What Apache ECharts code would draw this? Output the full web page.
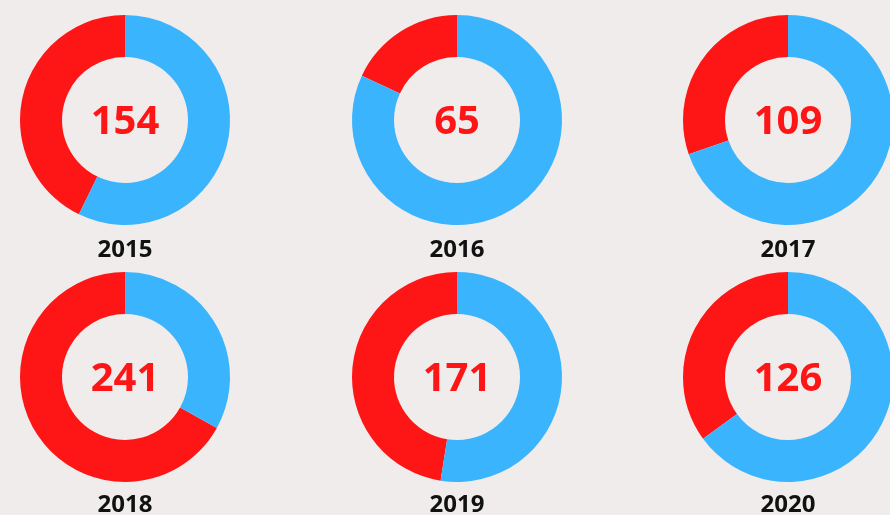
<!DOCTYPE html>
<html>
<head>
<meta charset="utf-8">
<script src="https://cdn.jsdelivr.net/npm/echarts@6/dist/echarts.min.js"></script>
<style>
  html, body { margin: 0; padding: 0; background: #f1ecec; }
  #chart { width: 890px; height: 515px; }
</style>
</head>
<body>
<div id="chart"></div>
<script>
// 年份
var years = ['2015', '2016', '2017', '2018', '2019', '2020'];
// 红色部分（中间显示的数字）
var redValues = [154, 65, 109, 241, 171, 126];
// 蓝色部分（剩余）
var blueValues = [206, 295, 251, 119, 189, 234];

var RED = '#fe1515';
var BLUE = '#3ab4fd';
var colX = [125, 457, 788];
var rowY = [120, 377];
var labelY = [250, 505];

var chart = echarts.init(document.getElementById('chart'));

var series = [];
var titles = [];
for (var i = 0; i < years.length; i++) {
  var cx = colX[i % 3];
  var row = Math.floor(i / 3);
  series.push({
    type: 'pie',
    center: [cx, rowY[row]],
    radius: [63, 105],
    startAngle: 90,
    clockwise: false,
    silent: true,
    avoidLabelOverlap: false,
    labelLine: { show: false },
    itemStyle: { borderWidth: 0 },
    data: [
      {
        value: redValues[i],
        itemStyle: { color: RED },
        label: {
          show: true,
          position: 'center',
          offset: [0, 3],
          formatter: String(redValues[i]),
          color: RED,
          fontSize: 40,
          fontWeight: 'bold',
          fontFamily: 'Open Sans'
        }
      },
      { value: blueValues[i], itemStyle: { color: BLUE }, label: { show: false } }
    ]
  });
  titles.push({
    text: years[i],
    left: cx,
    top: labelY[row],
    textAlign: 'center',
    textVerticalAlign: 'middle',
    padding: 0,
    textStyle: {
      color: '#111',
      fontSize: 24,
      fontWeight: 'bold',
      fontFamily: 'Open Sans'
    }
  });
}

chart.setOption({
  backgroundColor: '#f1ecec',
  animation: false,
  title: titles,
  series: series
});
</script>
</body>
</html>
